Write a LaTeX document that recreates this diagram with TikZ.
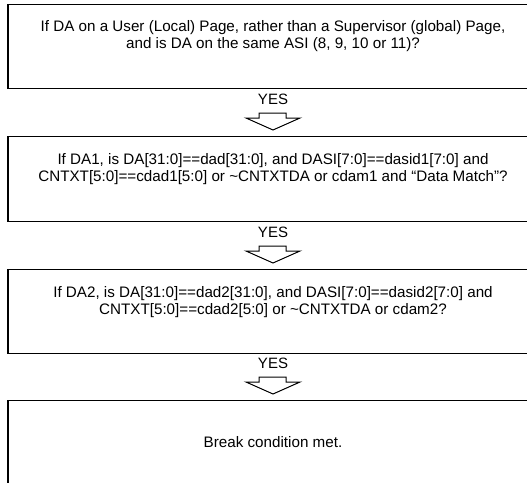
\documentclass[tikz,border=0pt]{standalone}
\usepackage{fontspec}
\setmainfont{Liberation Sans}
\begin{document}
\begin{tikzpicture}[x=1pt,y=-1pt,
  box/.style={draw=black, line width=1.1pt, minimum width=530pt, inner sep=0pt, anchor=north},
  txt/.style={font=\fontsize{15.2}{16.5}\selectfont, align=center, inner sep=0pt},
  yes/.style={font=\fontsize{15}{15}\selectfont, inner sep=0pt},
  hollow/.style={draw=black, line width=1pt, line join=miter}]
\useasboundingbox (0,0) rectangle (527,482);
\clip (0,0) rectangle (527,482);
\node[box, minimum height=84pt] (b1) at (273,4) {};
\node[box, minimum height=85pt] (b2) at (273,136) {};
\node[box, minimum height=84pt] (b3) at (273,269) {};
\node[box, minimum height=100pt] (b4) at (273,400) {};
\node[txt] (t1) at (273,36) {If DA on a User (Local) Page, rather than a Supervisor (global) Page,\\and is DA on the same ASI (8, 9, 10 or 11)?};
\node[txt] (t2) at (273,169) {If DA1, is DA[31:0]==dad[31:0], and DASI[7:0]==dasid1[7:0] and\\CNTXT[5:0]==cdad1[5:0] or \textasciitilde CNTXTDA or cdam1 and \textquotedblleft Data Match\textquotedblright?};
\node[txt] (t3) at (273,302) {If DA2, is DA[31:0]==dad2[31:0], and DASI[7:0]==dasid2[7:0] and\\CNTXT[5:0]==cdad2[5:0] or \textasciitilde CNTXTDA or cdam2?};
\node[txt] (t4) at (273,442) {Break condition met.};
\foreach \n in {2,3,4}{
  \node[yes] (y\n) at ([shift={(0,-37)}]b\n.north) {YES};
  \draw[hollow] ([shift={(-14,-23)}]b\n.north) -- ([shift={(13,-23)}]b\n.north)
    -- ([shift={(13,-18)}]b\n.north) -- ([shift={(27,-18)}]b\n.north)
    -- ([shift={(0,-6)}]b\n.north) -- ([shift={(-27,-18)}]b\n.north)
    -- ([shift={(-14,-18)}]b\n.north) -- cycle;
}
\end{tikzpicture}
\end{document}
